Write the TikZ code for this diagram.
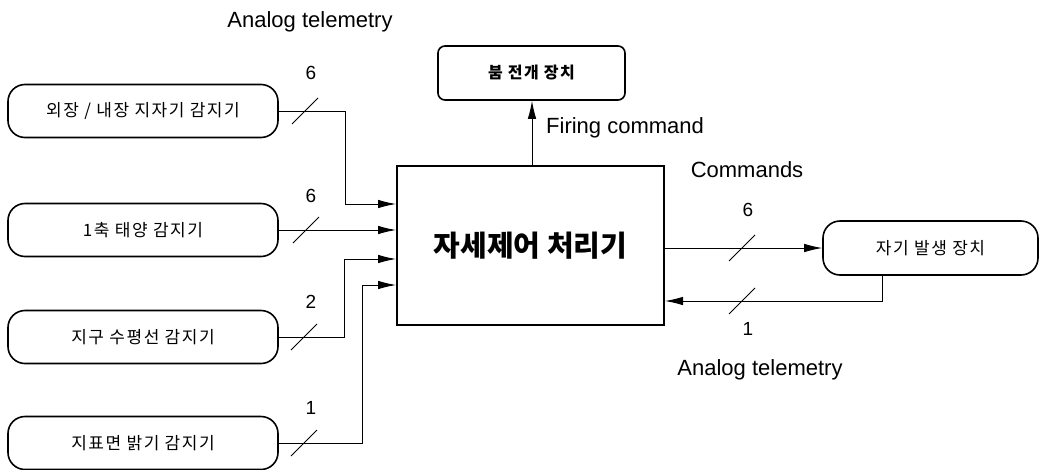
\documentclass[tikz,border=0pt]{standalone}
\usepackage{fontspec}
\setmainfont{Liberation Sans}
\newfontfamily\kr{Noto Sans CJK KR}
\newfontfamily\krs[LetterSpace=9]{Noto Sans CJK KR}
\usetikzlibrary{arrows.meta,calc}
\begin{document}
\begin{tikzpicture}[x=1pt,y=-1pt,
  sensor/.style={draw,line width=1.6pt,rounded corners=17pt,minimum width=270pt,minimum height=53pt,inner sep=0pt,font=\krs\fontsize{17}{20}\selectfont},
  unitbox/.style={draw,line width=1.6pt,inner sep=0pt,font=\krs\fontsize{17}{20}\selectfont},
  mainbox/.style={draw,line width=2pt,minimum width=267pt,minimum height=159pt,inner sep=0pt,font=\kr\bfseries\fontsize{29}{34}\selectfont},
  conn/.style={line width=0.9pt,-{Latex[length=18pt,width=8.5pt]}},
  slashmark/.style={line width=0.9pt},
  num/.style={font=\fontsize{19}{21}\selectfont,inner sep=0pt},
  lbl/.style={font=\fontsize{22}{25}\selectfont,inner sep=0pt}]
\useasboundingbox (0,0) rectangle (1041,469);
% nodes
\node[sensor] (b1) at (143,111) {외장 / 내장 지자기 감지기};
\node[sensor] (b2) at (143,230) {1축 태양 감지기};
\node[sensor] (b3) at (143,337) {지구 수평선 감지기};
\node[sensor] (b4) at (143,443) {지표면 밝기 감지기};
\node[mainbox] (main) at (530.5,245.5) {자세제어 처리기};
\node[unitbox,rounded corners=7pt,minimum width=187pt,minimum height=54pt,font=\krs\bfseries\fontsize{16}{19}\selectfont] (top) at (531.5,73) {붐 전개 장치};
\node[unitbox,rounded corners=17pt,minimum width=215pt,minimum height=54pt] (right) at (930.5,248) {자기 발생 장치};
% connectors
\draw[conn] (b1.east) -- (345,111) |- (main.west |- 0,204);
\draw[conn] (b2.east) -- (main.west |- b2.east);
\draw[conn] (b3.east) -- (344,337) |- (main.west |- 0,259);
\draw[conn] (b4.east) -- (362,443) |- (main.west |- 0,285);
\draw[conn] (main.north -| 532,0) -- (top.south -| 532,0);
\draw[conn] (main.east |- right.west) -- (right.west);
\draw[conn] (right.south -| 882,0) |- (main.east |- 0,301);
% slashes
\foreach \cx/\cy in {305/111,306/230,304/337,304/443,742/248,742/301}
  \draw[slashmark] (\cx-13,\cy+13) -- (\cx+13,\cy-13);
% numbers
\node[num] (n1) at (311,73) {6};
\node[num] (n2) at (311,196) {6};
\node[num] (n3) at (311,302) {2};
\node[num] (n4) at (311,408) {1};
\node[num] (n5) at (748,210) {6};
\node[num] (n6) at (748,329) {1};
% labels
\node[lbl] (l1) at (310,22) {Analog telemetry};
\node[lbl,anchor=west] (l2) at (546,128) {Firing command};
\node[lbl] (l3) at (747,170) {Commands};
\node[lbl] (l4) at (760,370) {Analog telemetry};
\end{tikzpicture}
\end{document}
